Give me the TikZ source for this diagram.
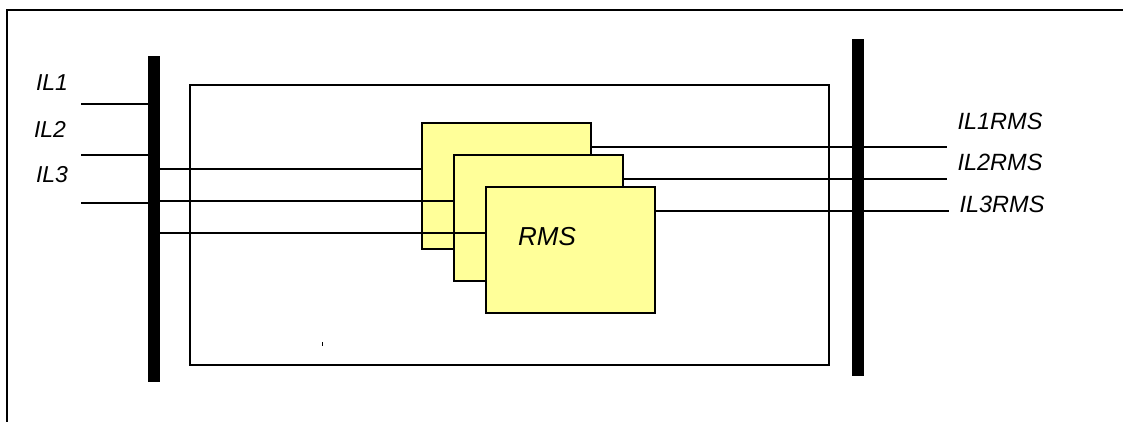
\documentclass[tikz,border=0pt]{standalone}
\usepackage{fontspec}
\setmainfont{Liberation Sans}
\usetikzlibrary{positioning}
\definecolor{rmsyellow}{RGB}{255,255,153}

\begin{document}
\begin{tikzpicture}[x=1pt, y=-1pt,
                    rms/.style = {draw, line width=2pt, fill=rmsyellow, minimum width=169pt, minimum height=126pt, inner sep=0pt},
                    bar/.style = {fill=black, minimum width=12pt, inner sep=0pt},
                    lbl/.style = {inner sep=0pt, font=\fontsize{23}{26}\selectfont\itshape},
                    olbl/.style = {inner sep=0pt, font=\fontsize{23.5}{26}\selectfont\itshape},
                    wire/.style = {line width=1.4pt}]
                    \useasboundingbox (0,0) rectangle (1123,422);
                    \draw[line width=1.6pt] (1123,10) -| (7,422);

                    \draw[line width=1.4pt] (190,85) rectangle (829,365);
                    \draw[line width=0.8pt] (322,342) -- (322,346);

                    \node[bar, minimum height=326pt] (lbar) at (154,219) {};

                    \node[lbl] (l1) at (52,83) {IL1};
                    \node[lbl] (l2) at (50,129) {IL2};
                    \node[lbl] (l3) at (52,175) {IL3};

                    \coordinate (in1) at (81,104);
                    \coordinate (in2) at (81,155);
                    \coordinate (in3) at (81,203);
                    \draw[wire] (in1) -- (in1 -| lbar.west);
                    \draw[wire] (in2) -- (in2 -| lbar.west);
                    \draw[wire] (in3) -- (in3 -| lbar.west);

                    \coordinate (a1) at (160,169);
                    \coordinate (a2) at (160,201);
                    \coordinate (a3) at (160,233);

                    % stacked blocks, each wire drawn over the block behind
                    \node[rms] (b1) at (506.5,186) {};
                    \coordinate (w2) at ([xshift=32pt]b1.west);
                    \draw[wire] (a1) -- (a1 -| b1.west);
                    \draw[wire] (a2) -- (a2 -| w2);
                    \node[rms] (b2) at ([shift={(32,32)}]b1) {};
                    \coordinate (w3) at ([xshift=32pt]b2.west);
                    \draw[wire] (a3) -- (a3 -| w3);
                    \node[rms] (b3) at ([shift={(32,32)}]b2) {};
                    \node[inner sep=0pt, font=\fontsize{26}{29}\selectfont\itshape] (t) at (547,237) {RMS};

                    \coordinate (o1) at (947,147);
                    \coordinate (o2) at (947,179);
                    \coordinate (o3) at (949,211);
                    \draw[wire] (o1 -| b1.east) -- (o1);
                    \draw[wire] (o2 -| b2.east) -- (o2);
                    \draw[wire] (o3 -| b3.east) -- (o3);

                    \node[bar, minimum height=337pt] (rbar) at (858,207.5) {};

                    \node[olbl] (r1) at (1000,121) {IL1RMS};
                    \node[olbl] (r2) at (1000,162) {IL2RMS};
                    \node[olbl] (r3) at (1002,204) {IL3RMS};
                \end{tikzpicture}
\end{document}
